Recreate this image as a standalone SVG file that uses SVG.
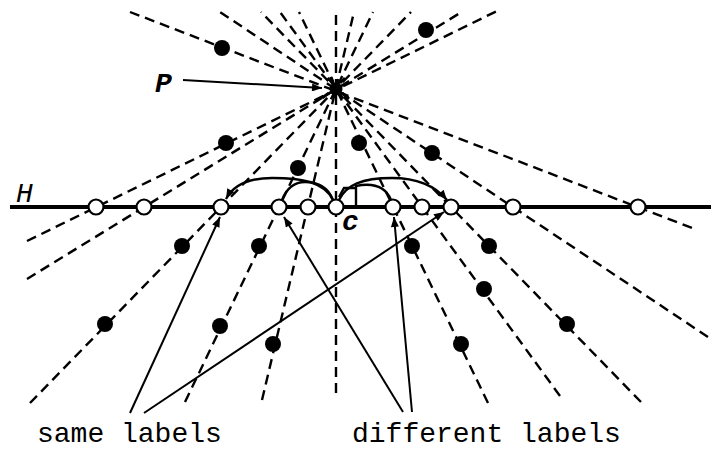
<svg xmlns="http://www.w3.org/2000/svg" width="711" height="449" viewBox="0 0 711 449">
<style>
.dash{stroke:#000;stroke-width:2.4;stroke-dasharray:10 6;fill:none}
.dot{fill:#000}
.hol{fill:#fff;stroke:#000;stroke-width:2.2}
.arc{fill:none;stroke:#000;stroke-width:2.4}
.arr{fill:none;stroke:#000;stroke-width:2}
.lbl{font-family:"Liberation Mono","Courier New",monospace;font-size:28px;fill:#000}
</style>
<defs>
<marker id="ah" viewBox="0 0 10 8" refX="10" refY="4" markerWidth="11" markerHeight="8" markerUnits="userSpaceOnUse" orient="auto">
<path d="M0,0 L10,4 L0,8 Z" fill="#000"/>
</marker>
</defs>
<rect width="711" height="449" fill="#fff"/>
<g id="rays">
<line class="dash" x1="27" y1="241" x2="497" y2="11"/>
<line class="dash" x1="27" y1="279" x2="460" y2="13"/>
<line class="dash" x1="30" y1="403" x2="411" y2="12"/>
<line class="dash" x1="185" y1="402" x2="373" y2="12"/>
<line class="dash" x1="262" y1="400" x2="354" y2="12"/>
<line class="dash" x1="336" y1="393" x2="336" y2="12"/>
<line class="dash" x1="488" y1="403" x2="299" y2="12"/>
<line class="dash" x1="560" y1="396" x2="280" y2="12"/>
<line class="dash" x1="641" y1="402" x2="261" y2="12"/>
<line class="dash" x1="708" y1="337" x2="220" y2="12"/>
<line class="dash" x1="130" y1="12" x2="692" y2="228"/>
</g>
<g id="H">
<line x1="10" y1="207" x2="711" y2="207" stroke="#000" stroke-width="4"/>
<text x="16" y="202" class="lbl" font-style="italic">H</text>
</g>
<g id="P">
<circle cx="336" cy="89" r="6.5" fill="#000"/>
<path d="M329,93 L322,98 M342,93 L349,99 M333,82 L331,77 M340,83 L345,78" stroke="#000" stroke-width="3"/>
<text x="155" y="92" class="lbl" font-size="29" font-weight="bold" font-style="italic">P</text>
<line class="arr" x1="183" y1="80" x2="322" y2="88" marker-end="url(#ah)"/>
</g>
<g id="dots">
<circle class="dot" cx="222" cy="48" r="8"/>
<circle class="dot" cx="426" cy="30" r="8"/>
<circle class="dot" cx="226" cy="143" r="8"/>
<circle class="dot" cx="298" cy="168" r="8"/>
<circle class="dot" cx="359" cy="143" r="8"/>
<circle class="dot" cx="432" cy="153" r="8"/>
<circle class="dot" cx="182" cy="246" r="8"/>
<circle class="dot" cx="259" cy="246" r="8"/>
<circle class="dot" cx="412" cy="246" r="8"/>
<circle class="dot" cx="489" cy="246" r="8"/>
<circle class="dot" cx="105" cy="324" r="8"/>
<circle class="dot" cx="220" cy="326" r="8"/>
<circle class="dot" cx="273" cy="344" r="8"/>
<circle class="dot" cx="484" cy="289" r="8"/>
<circle class="dot" cx="461" cy="344" r="8"/>
<circle class="dot" cx="567" cy="324" r="8"/>
</g>
<g id="arcs">
<path class="arc" d="M333,200 C325,182 302,178 272,178 C246,178 233,186 226,199" marker-end="url(#ah)"/>
<path class="arc" d="M333,200 C328,187 318,182 305,182 C293,182 286,190 282,200"/>
<path class="arc" d="M339,200 C346,185 362,178 392,178 C420,178 436,187 447,200" marker-end="url(#ah)"/>
<path class="arc" d="M356,207 L356,186 C376,182 386,188 391,200"/>
<path class="arc" d="M339,197 L344,188 L356,188"/>
</g>
<g id="points">
<circle class="hol" cx="96" cy="207" r="7.5"/>
<circle class="hol" cx="144" cy="207" r="7.5"/>
<circle class="hol" cx="221" cy="207" r="7.5"/>
<circle class="hol" cx="279" cy="207" r="7.5"/>
<circle class="hol" cx="308" cy="207" r="7.5"/>
<circle class="hol" cx="336" cy="207" r="7.5"/>
<circle class="hol" cx="393" cy="207" r="7.5"/>
<circle class="hol" cx="422" cy="207" r="7.5"/>
<circle class="hol" cx="451" cy="207" r="7.5"/>
<circle class="hol" cx="513" cy="207" r="7.5"/>
<circle class="hol" cx="638" cy="207" r="7.5"/>
</g>
<g id="c">
<text x="342" y="230" class="lbl" font-size="22" font-weight="bold" font-style="italic">c</text>
</g>
<g id="connectors">
<line class="arr" x1="130" y1="413" x2="220" y2="217" marker-end="url(#ah)"/>
<line class="arr" x1="144" y1="413" x2="444" y2="212" marker-end="url(#ah)"/>
<line class="arr" x1="403" y1="412" x2="284" y2="217" marker-end="url(#ah)"/>
<line class="arr" x1="412" y1="412" x2="394" y2="217" marker-end="url(#ah)"/>
</g>
<g id="labels">
<text x="37" y="442" class="lbl">same labels</text>
<text x="352" y="442" class="lbl">different labels</text>
</g>
</svg>
